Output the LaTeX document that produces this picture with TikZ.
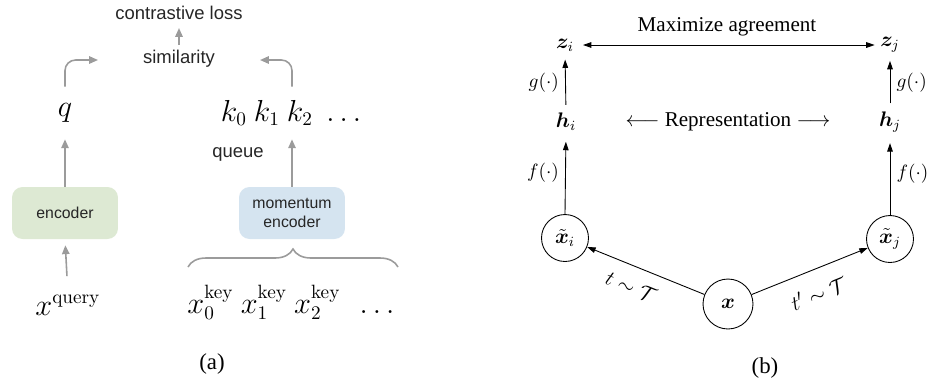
\documentclass[tikz,border=0pt]{standalone}
\usepackage[no-math]{fontspec}
\setmainfont{Liberation Serif}
\setsansfont{Liberation Sans}
\usepackage{amsmath,amssymb,bm}
\usepackage{xcolor}
\usepackage{tikz}
\usetikzlibrary{arrows.meta,positioning,calc,decorations.pathreplacing}

\definecolor{encGreen}{RGB}{221,233,211}
\definecolor{encBlue}{RGB}{213,228,240}
\definecolor{arrowGray}{RGB}{155,155,155}

\begin{document}
\begin{tikzpicture}[
    x=0.02cm, y=-0.02cm,
    sansLbl/.style={
        font=\sffamily\fontsize{10.5}{12}\selectfont, text=black!85, inner sep=0pt
    },
    bigMath/.style={
        font=\fontsize{16}{19}\selectfont, inner sep=0pt, minimum height=1.04cm
    },
    inMath/.style={
        font=\fontsize{16}{19}\selectfont, inner sep=0pt, anchor=base
    },
    encBox/.style={
        rectangle, rounded corners=6pt, minimum width=2.12cm, minimum height=1.04cm,
        align=center, font=\sffamily\fontsize{9}{11}\selectfont, text=black!85
    },
    grayArrow/.style={
        -{Triangle[length=5pt, width=4.2pt]}, line width=0.9pt, draw=arrowGray
    },
    smallMath/.style={
        font=\fontsize{11.5}{13}\selectfont, inner sep=0pt
    },
    fnLbl/.style={
        inner sep=3.5pt, font=\fontsize{11}{13}\selectfont
    },
    viewNode/.style={
        circle, draw, line width=0.5pt, minimum size=0.94cm, inner sep=0pt,
        font=\fontsize{11.5}{13}\selectfont
    },
    blkArrow/.style={
        -{Triangle[length=4.8pt, width=3.2pt]}, line width=0.5pt
    },
    capLbl/.style={font=\fontsize{13}{15}\selectfont}
]
\useasboundingbox (0,0) rectangle (930,387);

% (a): query encoder and momentum encoder
\node[sansLbl] (loss) at (179,13) {contrastive loss};
\node[sansLbl] (sim) at (179,59) {similarity};
\node[bigMath] (q) at (65,113) {$q$};
\node[bigMath] (keys) at (291,113) {$k_0\ k_1\ k_2\;\ldots$};
\node[sansLbl] (queue) at (238,154) {queue};
\node[encBox, fill=encGreen] (enc) at (65,213) {encoder};
\node[encBox, fill=encBlue] (menc) at (292,213) {momentum\\encoder};
\node[inMath] (xq) at (68,315) {$x^{\mathrm{query}}$};
\node[inMath] (xk) at (291,313) {$x_0^{\mathrm{key}}\ x_1^{\mathrm{key}}\ x_2^{\mathrm{key}}\ \ \ldots$};

\coordinate (simL) at (98,60);
\coordinate (simR) at (260,60);

% Flows (a)
\draw[grayArrow, shorten <=3pt, shorten >=4.5pt] (sim.north) -- (loss.south);
\draw[grayArrow, rounded corners=6pt] (q.north) |- (simL);
\draw[grayArrow, rounded corners=6pt] (menc.north |- keys.north) |- (simR);
\draw[grayArrow] (enc.north) -- (q.south);
\draw[grayArrow] (menc.north) -- (menc.north |- keys.south);
\draw[grayArrow, shorten <=11pt, shorten >=3.4pt] (xq.north) -- (enc.south);
\draw[arrowGray, line width=0.9pt, decorate, decoration={brace, amplitude=0.36cm}]
    (188,267) -- (398,267);

\node[capLbl] (capA) at (212,364) {(a)};

% (b): two augmented views
\node[capLbl, font=\fontsize{12}{14}\selectfont] (agree) at (727,27) {Maximize agreement};
\node[smallMath] (zi) at (565,45) {$\bm{z}_i$};
\node[smallMath] (zj) at (890,45) {$\bm{z}_j$};
\node[smallMath] (hi) at (566,122) {$\bm{h}_i$};
\node[smallMath] (hj) at (890,122) {$\bm{h}_j$};
\node[font=\fontsize{12}{14}\selectfont] (repr) at (728,122) {$\longleftarrow$ Representation $\longrightarrow$};
\node[viewNode] (xi) at (565,238) {$\tilde{\bm{x}}_i$};
\node[viewNode] (xj) at (890,239) {$\tilde{\bm{x}}_j$};
\node[viewNode, minimum size=1cm] (x) at (728,304) {$\bm{x}$};

% Flows (b)
\draw[blkArrow, {Triangle[length=4.8pt, width=3.2pt]}-{Triangle[length=4.8pt, width=3.2pt]},
    shorten <=5pt, shorten >=3pt] (zi.east) -- (zj.west);
\draw[blkArrow, shorten <=4.5pt, shorten >=4.5pt] (hi.north) -- node[left, fnLbl] {$g(\cdot)$} (zi.south);
\draw[blkArrow, shorten <=4.5pt, shorten >=4.5pt] (hj.north) -- node[right, fnLbl] {$g(\cdot)$} (zj.south);
\draw[blkArrow, shorten >=6pt] (xi.north) -- node[left, fnLbl] {$f(\cdot)$} (hi.south);
\draw[blkArrow, shorten >=6pt] (xj.north) -- node[right, fnLbl] {$f(\cdot)$} (hj.south);
\draw[blkArrow] (x) -- node[pos=0.56, sloped, below=4pt, font=\fontsize{12.5}{14}\selectfont] {$t \sim \mathcal{T}$} (xi);
\draw[blkArrow] (x) -- node[pos=0.5, sloped, below=5pt, font=\fontsize{12.5}{14}\selectfont] {$t' \sim \mathcal{T}$} (xj);

\node[capLbl] (capB) at (765,368) {(b)};

\end{tikzpicture}
\end{document}
